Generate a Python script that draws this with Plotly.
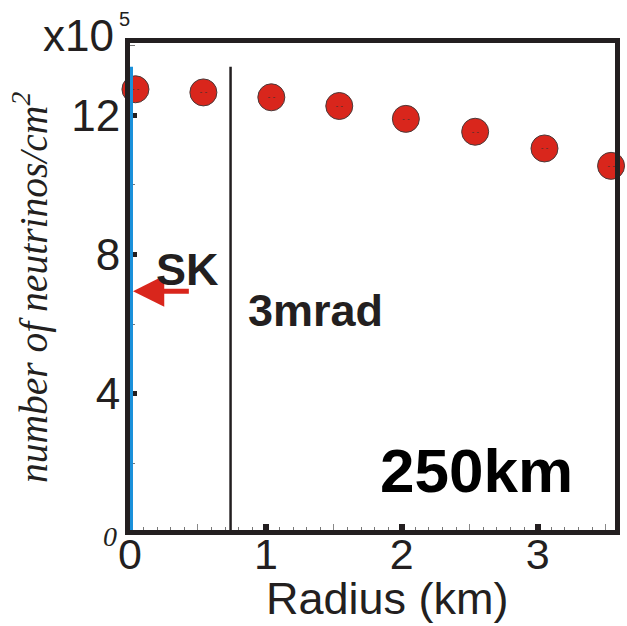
import plotly.graph_objects as go

# Neutrino flux versus distance from the beam axis, 250 km baseline
radius_km = [0.04, 0.54, 1.04, 1.54, 2.03, 2.54, 3.05, 3.54]
flux_1e5 = [12.75, 12.66, 12.52, 12.27, 11.90, 11.53, 11.05, 10.55]

x_tick_vals = [0, 1, 2, 3]
x_tick_text = ["0", "1", "2", "3"]
y_tick_vals = [4, 8, 12]
y_tick_text = ["4", "8", "12"]

sk_radius = 0.011      # Super-Kamiokande position on the axis
mrad_radius = 0.74     # 3 mrad off-axis at 250 km
ref_line_top = 13.4
sk_arrow_y = 6.95
sk_arrow_tail = 0.444
sk_arrow_head = 0.022

X_RANGE = [0.0, 3.569]
Y_RANGE = [0.086, 14.08]

W, H = 627, 626
L, R, T, B = 130, 7, 43, 96
PW, PH = W - L - R, H - T - B

INK = "#231f20"
RED = "#d9261c"
BLUE = "#1a90da"
SANS = "Liberation Sans, Arial, sans-serif"
SERIF = "Liberation Serif, Times New Roman, serif"


def px(xp):
    return (xp - L) / PW


def py(yp):
    return (H - B - yp) / PH


fig = go.Figure()

fig.add_trace(go.Scatter(
    x=radius_km, y=flux_1e5,
    mode="markers+text",
    text=["- -"] * len(radius_km),
    textposition="middle center",
    textfont=dict(size=8, color="#333333", family=SANS),
    marker=dict(size=27, color=RED, line=dict(width=1, color="#4a3a3a")),
    cliponaxis=False,
    showlegend=False,
    hoverinfo="skip",
))

# invisible trace to hold the secondary tick axis
fig.add_trace(go.Scatter(x=[X_RANGE[0]], y=[Y_RANGE[0]], xaxis="x2",
                         mode="markers", marker=dict(opacity=0),
                         showlegend=False, hoverinfo="skip"))

shapes = [
    dict(type="line", xref="x", yref="y", x0=sk_radius, x1=sk_radius,
         y0=Y_RANGE[0], y1=ref_line_top, line=dict(color=BLUE, width=3), layer="above"),
    dict(type="line", xref="x", yref="y", x0=mrad_radius, x1=mrad_radius,
         y0=Y_RANGE[0], y1=ref_line_top, line=dict(color=INK, width=2.5), layer="above"),
]

annotations = [
    dict(x=sk_arrow_head, y=sk_arrow_y, ax=sk_arrow_tail, ay=sk_arrow_y,
         xref="x", yref="y", axref="x", ayref="y", text="",
         showarrow=True, arrowhead=2, arrowsize=1.25, arrowwidth=5,
         arrowcolor=RED, standoff=0, startstandoff=0),
    dict(x=px(188), y=py(269), xref="paper", yref="paper", text="<b>SK</b>",
         showarrow=False, font=dict(family=SANS, size=45, color=INK),
         xanchor="center", yanchor="middle"),
    dict(x=px(317), y=py(311), xref="paper", yref="paper", text="<b>3mrad</b>",
         showarrow=False, font=dict(family=SANS, size=45, color=INK),
         xanchor="center", yanchor="middle"),
    dict(x=px(480), y=py(470), xref="paper", yref="paper", text="<b>250km</b>",
         showarrow=False, font=dict(family=SANS, size=62, color="#000000"),
         xanchor="center", yanchor="middle"),
    dict(x=px(78), y=py(36), xref="paper", yref="paper", text="x10",
         showarrow=False, font=dict(family=SANS, size=44, color=INK),
         xanchor="center", yanchor="middle"),
    dict(x=px(124), y=py(19), xref="paper", yref="paper", text="5",
         showarrow=False, font=dict(family=SANS, size=20, color=INK),
         xanchor="center", yanchor="middle"),
    dict(x=px(110), y=py(536), xref="paper", yref="paper", text="<i>0</i>",
         showarrow=False, font=dict(family=SERIF, size=28, color=INK),
         xanchor="center", yanchor="middle"),
    dict(x=px(390), y=py(625), xref="paper", yref="paper", text="Radius (km)",
         showarrow=False, font=dict(family=SANS, size=45, color=INK),
         xanchor="center", yanchor="bottom", borderpad=0),
    dict(x=px(29), y=py(288), xref="paper", yref="paper",
         text="<i>number of neutrinos/cm<sup>2</sup></i>", textangle=-90,
         showarrow=False, font=dict(family=SERIF, size=39.5, color=INK),
         xanchor="center", yanchor="middle"),
]

fig.update_layout(
    width=W, height=H,
    margin=dict(l=L, r=R, t=T, b=B),
    paper_bgcolor="white", plot_bgcolor="white",
    shapes=shapes, annotations=annotations,
    xaxis=dict(
        range=X_RANGE, showgrid=False, zeroline=False,
        showline=True, linewidth=5, linecolor=INK, mirror=True,
        tickvals=x_tick_vals, ticktext=x_tick_text,
        ticks="inside", ticklen=6, tickwidth=6, tickcolor=INK,
        tickfont=dict(family=SANS, size=43, color=INK),
        ticklabelstandoff=-18,
        minor=dict(dtick=0.1, tick0=0, ticks="inside", ticklen=3,
                   tickwidth=1, tickcolor="#777777"),
    ),
    xaxis2=dict(
        range=X_RANGE, overlaying="x", anchor="y", side="bottom",
        showgrid=False, zeroline=False, showline=False,
        tickvals=[0.5, 1.5, 2.5, 3.5], showticklabels=False,
        ticks="inside", ticklen=6, tickwidth=1, tickcolor="#888888",
    ),
    yaxis=dict(
        range=Y_RANGE, showgrid=False, zeroline=False,
        showline=True, linewidth=5, linecolor=INK, mirror=True,
        tickvals=y_tick_vals, ticktext=y_tick_text,
        ticks="inside", ticklen=7, tickwidth=5, tickcolor=INK,
        tickfont=dict(family=SANS, size=44, color=INK),
        ticklabelstandoff=-4,
        minor=dict(dtick=2, tick0=0, ticks="inside", ticklen=5,
                   tickwidth=1, tickcolor="#777777"),
    ),
)

fig.write_html("out.html")
